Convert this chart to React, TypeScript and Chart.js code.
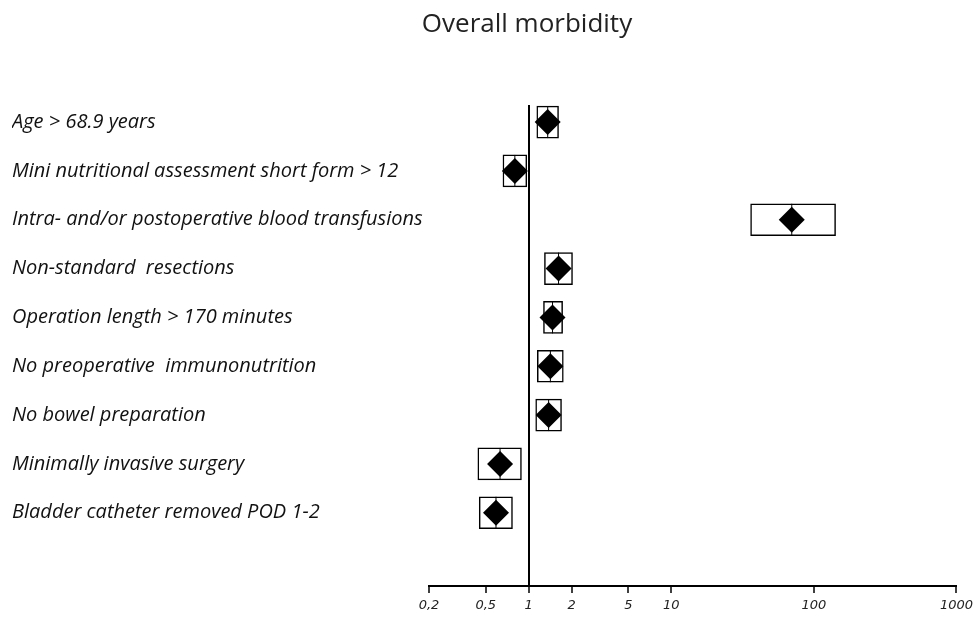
import React, { useEffect, useRef } from "react";
import { Chart, registerables } from "chart.js";

Chart.register(...registerables);

const categories = [
  "Age > 68.9 years",
  "Mini nutritional assessment short form > 12",
  "Intra- and/or postoperative blood transfusions",
  "Non-standard  resections",
  "Operation length > 170 minutes",
  "No preoperative  immunonutrition",
  "No bowel preparation",
  "Minimally invasive surgery",
  "Bladder catheter removed POD 1-2",
];
const oddsRatios = [1.36, 0.8, 70, 1.62, 1.47, 1.42, 1.38, 0.63, 0.59];
const ciLow = [1.14, 0.66, 36, 1.29, 1.27, 1.15, 1.12, 0.44, 0.45];
const ciHigh = [1.62, 0.97, 142, 2.03, 1.73, 1.75, 1.7, 0.89, 0.77];
const xTickValues = [0.2, 0.5, 1, 2, 5, 10, 100, 1000];
const xTickLabels = ["0,2", "0,5", "1", "2", "5", "10", "100", "1000"];
const titleText = "Overall morbidity";

export default function App() {
  const ref = useRef<HTMLCanvasElement>(null);
  useEffect(() => {
    const rows = categories.map((_, i) => i + 1);
    const chart = new Chart(ref.current!, {
      type: "bar",
      data: {
        datasets: [
          {
            type: "scatter",
            order: 0,
            data: rows.map((r, i) => ({ x: oddsRatios[i], y: r })),
            pointStyle: "rectRot",
            pointRadius: 13,
            backgroundColor: "#000",
            borderColor: "#000",
            borderWidth: 0,
          } as any,
          {
            type: "scatter",
            order: 1,
            data: rows.map((r, i) => ({ x: oddsRatios[i], y: r })),
            pointStyle: "line",
            rotation: 90,
            pointRadius: 16,
            borderColor: "#000",
            borderWidth: 1,
          } as any,
          {
            type: "bar",
            order: 2,
            indexAxis: "y",
            data: rows.map((r, i) => ({ x: [ciLow[i], ciHigh[i]], y: r })),
            backgroundColor: "#fff",
            borderColor: "#000",
            borderWidth: 1.5,
            borderSkipped: false,
            barThickness: 32,
          } as any,
        ],
      },
      options: {
        indexAxis: "y",
        responsive: false,
        animation: false,
        devicePixelRatio: 1,
        events: [],
        layout: { padding: { left: 12, right: 22, top: 105, bottom: 0 } },
        plugins: { legend: { display: false }, tooltip: { enabled: false } },
        scales: {
          x: {
            type: "logarithmic",
            min: 0.2,
            max: 1000,
            offset: false,
            afterBuildTicks: (s: any) => {
              s.ticks = xTickValues.map((v) => ({ value: v }));
            },
            ticks: {
              autoSkip: false,
              maxRotation: 0,
              padding: 6,
              color: "#222",
              font: { family: "DejaVu Sans", size: 13, style: "italic", lineHeight: 1.0 },
              callback: (v: any) => {
                const i = xTickValues.indexOf(Number(v));
                return i >= 0 ? xTickLabels[i] : "";
              },
            },
            grid: {
              display: true,
              offset: false,
              drawOnChartArea: true,
              color: (ctx: any) =>
                ctx.tick && ctx.tick.value === 1 ? "#000" : "rgba(0,0,0,0)",
              lineWidth: 2,
              tickColor: "#000",
              tickLength: 7,
              tickWidth: 1.5,
            },
            border: { display: true, color: "#000", width: 2 },
          },
          y: {
            type: "linear",
            min: 0.65,
            max: 10.5,
            reverse: true,
            offset: false,
            afterBuildTicks: (s: any) => {
              s.ticks = rows.map((v) => ({ value: v }));
            },
            afterFit: (s: any) => {
              s.width = 417;
            },
            ticks: {
              autoSkip: false,
              crossAlign: "far",
              color: "#111",
              font: { family: "Open Sans", size: 20, style: "italic" },
              callback: (v: any) => categories[Number(v) - 1] ?? "",
            },
            grid: { display: false, offset: false },
            border: { display: false },
          },
        },
      } as any,
    });
    return () => chart.destroy();
  }, []);
  return (
    <div style={{ position: "absolute", left: 0, top: 0, width: 979, height: 618, background: "#fff" }}>
      <div
        style={{
          position: "absolute",
          left: 327,
          width: 400,
          top: 4,
          textAlign: "center",
          fontFamily: "Open Sans",
          fontSize: 26,
          lineHeight: "36px",
          color: "#222",
        }}
      >
        {titleText}
      </div>
      <canvas ref={ref} width={979} height={618} style={{ display: "block" }} />
    </div>
  );
}
